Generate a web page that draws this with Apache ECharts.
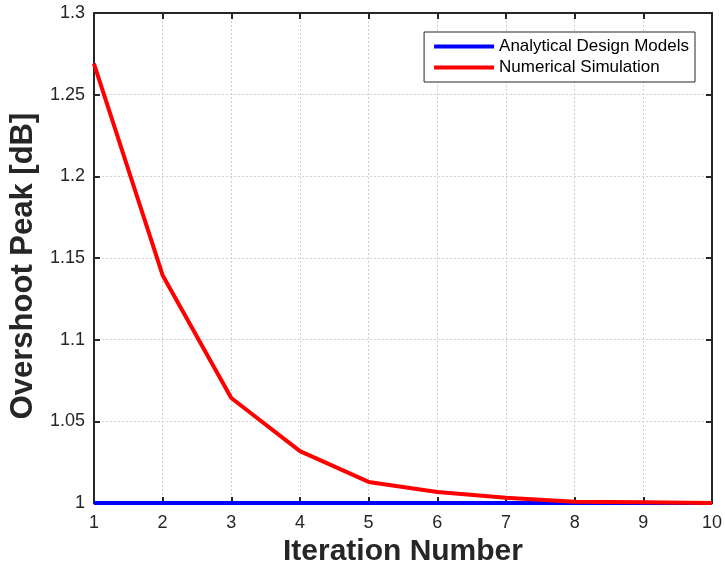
<!DOCTYPE html>
<html><head><meta charset="utf-8">
<script src="https://cdn.jsdelivr.net/npm/echarts@6/dist/echarts.min.js"></script>
<style>html,body{margin:0;padding:0;background:#fff}#c{width:725px;height:572px}</style>
</head><body><div id="c"></div>
<script>
const iterations = [1, 2, 3, 4, 5, 6, 7, 8, 9, 10];
const analytical = [1, 1, 1, 1, 1, 1, 1, 1, 1, 1];
const numerical = [1.269, 1.1395, 1.0643, 1.0318, 1.0129, 1.0067, 1.0032, 1.0007, 1.0004, 1.0];
const seriesNames = ['Analytical Design Models', 'Numerical Simulation'];

const chart = echarts.init(document.getElementById('c'));
const font = 'Liberation Sans, Arial, sans-serif';
const axisCol = '#262626';
const gridLine = {show: true, lineStyle: {color: '#d0d0d0', type: [2, 2], width: 1}};
chart.setOption({
  animation: false,
  backgroundColor: '#fff',
  grid: {left: 91, right: 10, top: 13, bottom: 69, show: false},
  legend: {
    right: 30, top: 32, orient: 'vertical', itemGap: 4,
    backgroundColor: '#fff', borderColor: '#262626', borderWidth: 1,
    padding: [6, 6, 6, 10],
    itemWidth: 60, itemHeight: 4, icon: 'rect',
    textStyle: {fontFamily: font, fontSize: 17, lineHeight: 17, color: '#000'},
    data: seriesNames
  },
  xAxis: [{
    type: 'value', min: 1, max: 10, interval: 1, position: 'bottom',
    name: 'Iteration Number', nameLocation: 'middle', nameGap: 34,
    nameTextStyle: {fontFamily: font, fontSize: 30, fontWeight: 'bold', color: axisCol},
    axisLine: {show: true, onZero: false, lineStyle: {color: axisCol, width: 2}},
    axisTick: {show: true, inside: true, length: 6, lineStyle: {color: axisCol, width: 2}},
    axisLabel: {fontFamily: font, fontSize: 18, color: axisCol, margin: 11},
    splitLine: gridLine
  }, {
    type: 'value', min: 1, max: 10, interval: 1, position: 'top',
    axisLine: {show: true, onZero: false, lineStyle: {color: axisCol, width: 2}},
    axisTick: {show: true, inside: true, length: 6, lineStyle: {color: axisCol, width: 2}},
    axisLabel: {show: false}, splitLine: {show: false}
  }],
  yAxis: [{
    type: 'value', min: 1, max: 1.3, interval: 0.05, position: 'left',
    name: 'Overshoot Peak [dB]', nameLocation: 'middle', nameGap: 42,
    nameTextStyle: {fontFamily: font, fontSize: 31, fontWeight: 'bold', color: axisCol, padding: [0, 16, 0, 0]},
    axisLine: {show: true, onZero: false, lineStyle: {color: axisCol, width: 2}},
    axisTick: {show: true, inside: true, length: 6, lineStyle: {color: axisCol, width: 2}},
    axisLabel: {fontFamily: font, fontSize: 18, color: axisCol, margin: 9,
      formatter: v => String(Math.round(v * 100) / 100)},
    splitLine: gridLine
  }, {
    type: 'value', min: 1, max: 1.3, interval: 0.05, position: 'right',
    axisLine: {show: true, onZero: false, lineStyle: {color: axisCol, width: 2}},
    axisTick: {show: true, inside: true, length: 6, lineStyle: {color: axisCol, width: 2}},
    axisLabel: {show: false}, splitLine: {show: false}
  }],
  series: [{
    name: seriesNames[0], type: 'line', showSymbol: false, symbol: 'none',
    data: iterations.map((x, i) => [x, analytical[i]]),
    lineStyle: {color: '#0000ff', width: 4}, itemStyle: {color: '#0000ff'}, z: 3
  }, {
    name: seriesNames[1], type: 'line', showSymbol: false, symbol: 'none',
    data: iterations.map((x, i) => [x, numerical[i]]),
    lineStyle: {color: '#ff0000', width: 4}, itemStyle: {color: '#ff0000'}, z: 4
  }]
});
</script></body></html>
